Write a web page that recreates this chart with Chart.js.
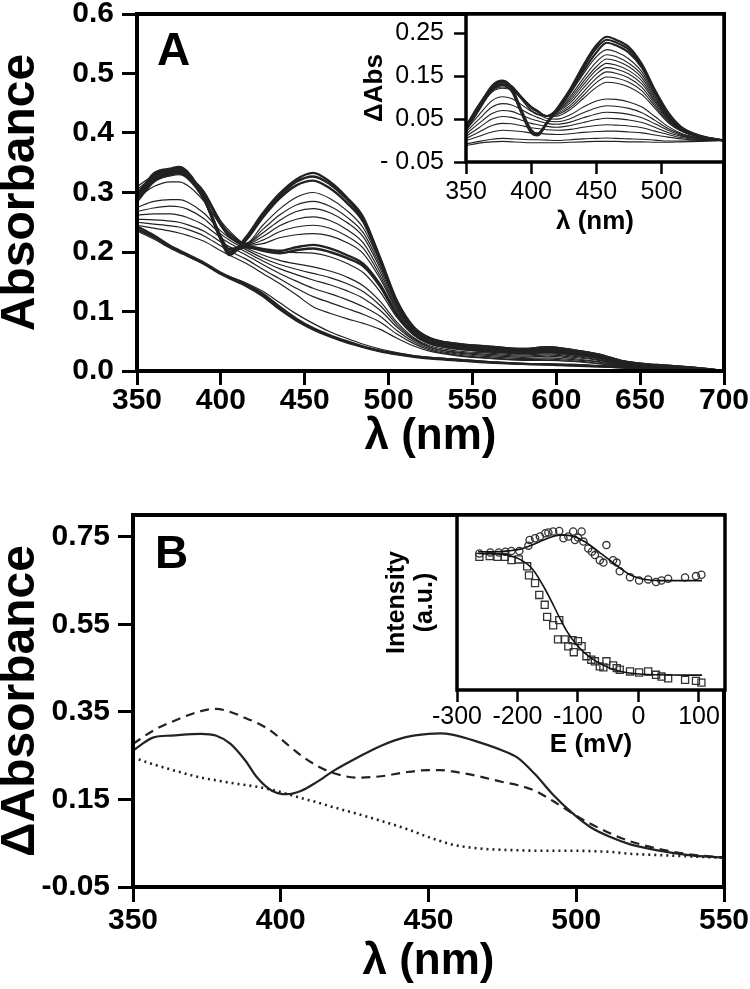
<!DOCTYPE html>
<html>
<head>
<meta charset="utf-8">
<script src="https://cdn.jsdelivr.net/npm/chart.js@4"></script>
<style>
body { margin: 0; background: #fff; }
#wrap { position: relative; width: 750px; height: 989px; overflow: hidden; }
canvas { position: absolute; }
.tag { position: absolute; font: bold 46px 'Liberation Sans', Arial, sans-serif; line-height: 1; color: #000; }
</style>
</head>
<body>
<div id="wrap">
  <canvas id="mainA" width="750" height="459" style="left:0px;top:0px"></canvas>
  <canvas id="insetA" width="400" height="240" style="left:350px;top:0px"></canvas>
  <canvas id="mainB" width="750" height="509" style="left:0px;top:480px"></canvas>
  <canvas id="insetB" width="390" height="270" style="left:360px;top:490px"></canvas>
  <div class="tag" style="left:157px;top:26px">A</div>
  <div class="tag" style="left:155px;top:529px">B</div>
</div>
<script>
const FONT = "'Liberation Sans', Arial, sans-serif";
const INK = '#222';

// ---- panel A: spectra recorded during the titration ----
const lamA = [350,360,370,375,380,390,400,405,415,425,435,445,455,465,475,485,495,505,515,525,540,560,580,595,610,625,640,660,680,700];
const a1  = [0.29,0.332,0.34,0.343,0.335,0.29,0.22,0.195,0.225,0.265,0.298,0.322,0.333,0.318,0.292,0.258,0.188,0.115,0.072,0.054,0.046,0.041,0.037,0.04,0.035,0.028,0.016,0.01,0.006,0.0];
const a2  = [0.295,0.33,0.338,0.34,0.333,0.292,0.225,0.2,0.222,0.262,0.294,0.318,0.327,0.314,0.289,0.255,0.19,0.118,0.074,0.055,0.046,0.041,0.037,0.04,0.035,0.028,0.016,0.01,0.006,0.0];
const a3  = [0.285,0.328,0.335,0.338,0.33,0.29,0.222,0.198,0.22,0.258,0.29,0.312,0.32,0.307,0.283,0.25,0.185,0.114,0.072,0.054,0.045,0.04,0.036,0.039,0.034,0.027,0.016,0.009,0.006,0.0];
const a4  = [0.30,0.33,0.336,0.335,0.33,0.30,0.245,0.225,0.215,0.245,0.272,0.292,0.30,0.29,0.27,0.24,0.182,0.115,0.073,0.054,0.045,0.04,0.036,0.038,0.034,0.027,0.015,0.009,0.005,0.0];
const a5  = [0.305,0.325,0.332,0.333,0.328,0.302,0.25,0.232,0.214,0.238,0.262,0.279,0.285,0.277,0.259,0.232,0.177,0.113,0.072,0.053,0.044,0.039,0.035,0.037,0.033,0.026,0.015,0.009,0.005,0.0];
const a6  = [0.31,0.328,0.333,0.332,0.326,0.30,0.252,0.236,0.214,0.232,0.253,0.268,0.273,0.266,0.25,0.225,0.172,0.11,0.07,0.052,0.043,0.038,0.035,0.037,0.033,0.026,0.015,0.009,0.005,0.0];
const a7  = [0.30,0.325,0.334,0.335,0.328,0.298,0.248,0.23,0.213,0.226,0.244,0.255,0.259,0.253,0.238,0.215,0.166,0.107,0.069,0.051,0.042,0.037,0.034,0.036,0.032,0.025,0.015,0.009,0.005,0.0];
const a8  = [0.29,0.322,0.33,0.332,0.326,0.296,0.245,0.228,0.212,0.22,0.234,0.242,0.245,0.24,0.227,0.206,0.16,0.104,0.068,0.05,0.041,0.036,0.033,0.035,0.031,0.024,0.014,0.008,0.005,0.0];
const a9  = [0.298,0.32,0.328,0.33,0.324,0.295,0.243,0.226,0.211,0.214,0.224,0.229,0.231,0.227,0.216,0.197,0.155,0.101,0.066,0.049,0.04,0.035,0.032,0.034,0.03,0.024,0.014,0.008,0.005,0.0];
const a10 = [0.29,0.322,0.332,0.335,0.328,0.29,0.225,0.205,0.21,0.205,0.202,0.208,0.212,0.206,0.195,0.18,0.145,0.096,0.063,0.047,0.039,0.034,0.031,0.033,0.029,0.023,0.013,0.008,0.005,0.0];
const a11 = [0.285,0.318,0.33,0.333,0.325,0.288,0.222,0.2,0.208,0.202,0.198,0.203,0.206,0.2,0.19,0.176,0.142,0.094,0.062,0.046,0.038,0.033,0.03,0.032,0.028,0.022,0.013,0.008,0.004,0.0];
const b1  = [0.29,0.31,0.318,0.318,0.312,0.285,0.245,0.232,0.212,0.205,0.2,0.199,0.198,0.192,0.181,0.165,0.133,0.09,0.06,0.045,0.037,0.032,0.029,0.031,0.027,0.021,0.012,0.007,0.004,0.0];
const b2  = [0.275,0.285,0.288,0.288,0.284,0.265,0.235,0.224,0.207,0.195,0.186,0.18,0.175,0.168,0.158,0.143,0.117,0.082,0.056,0.042,0.034,0.03,0.027,0.029,0.025,0.019,0.011,0.007,0.004,0.0];
const b3  = [0.268,0.274,0.277,0.276,0.272,0.256,0.23,0.22,0.204,0.19,0.179,0.171,0.164,0.157,0.147,0.133,0.11,0.078,0.054,0.04,0.032,0.028,0.025,0.027,0.023,0.018,0.01,0.006,0.004,0.0];
const b4  = [0.262,0.264,0.264,0.262,0.258,0.245,0.224,0.215,0.2,0.185,0.172,0.162,0.153,0.145,0.135,0.122,0.102,0.074,0.052,0.039,0.031,0.026,0.023,0.025,0.021,0.016,0.01,0.006,0.003,0.0];
const b5  = [0.255,0.254,0.252,0.25,0.246,0.235,0.217,0.209,0.195,0.179,0.164,0.151,0.139,0.13,0.12,0.108,0.092,0.068,0.049,0.037,0.029,0.024,0.021,0.022,0.019,0.015,0.009,0.005,0.003,0.0];
const b6  = [0.25,0.247,0.244,0.242,0.238,0.227,0.21,0.202,0.188,0.171,0.155,0.139,0.125,0.115,0.105,0.095,0.082,0.062,0.046,0.035,0.027,0.022,0.019,0.02,0.017,0.013,0.008,0.005,0.003,0.0];
const b7  = [0.245,0.24,0.235,0.232,0.228,0.218,0.202,0.195,0.181,0.164,0.147,0.128,0.108,0.097,0.088,0.08,0.07,0.055,0.042,0.033,0.026,0.021,0.018,0.018,0.016,0.012,0.008,0.005,0.003,0.0];
const c1  = [0.243,0.228,0.21,0.203,0.196,0.182,0.165,0.158,0.146,0.13,0.108,0.088,0.072,0.06,0.05,0.041,0.034,0.029,0.025,0.022,0.019,0.015,0.012,0.011,0.01,0.008,0.006,0.004,0.003,0.0];
const c2  = [0.238,0.225,0.208,0.2,0.194,0.18,0.163,0.156,0.143,0.126,0.104,0.085,0.07,0.058,0.048,0.04,0.033,0.028,0.024,0.021,0.018,0.014,0.012,0.011,0.009,0.008,0.006,0.004,0.002,0.0];
const c3  = [0.235,0.222,0.206,0.2,0.193,0.18,0.165,0.159,0.148,0.134,0.115,0.096,0.08,0.066,0.055,0.045,0.037,0.031,0.026,0.023,0.02,0.016,0.013,0.012,0.011,0.009,0.007,0.005,0.003,0.0];
const xTicksA = [350,400,450,500,550,600,650,700];
const yTicksA = [0,0.1,0.2,0.3,0.4,0.5,0.6];
const yLabelsA = ['0.0','0.1','0.2','0.3','0.4','0.5','0.6'];

// ---- inset A: difference spectra ----
const lamI = [350,360,370,378,385,392,400,405,412,420,430,440,450,458,465,475,485,495,505,515,530,548];
const i1  = [0.028,0.078,0.125,0.138,0.12,0.068,0.018,0.012,0.04,0.075,0.12,0.175,0.222,0.242,0.235,0.218,0.178,0.118,0.066,0.032,0.011,0.0];
const i2  = [0.032,0.08,0.128,0.14,0.124,0.075,0.025,0.016,0.042,0.074,0.118,0.17,0.215,0.235,0.229,0.212,0.174,0.115,0.064,0.031,0.01,0.0];
const i3  = [0.025,0.072,0.118,0.13,0.115,0.07,0.022,0.015,0.04,0.07,0.112,0.162,0.205,0.228,0.222,0.205,0.17,0.112,0.062,0.03,0.01,0.0];
const i4  = [0.035,0.085,0.125,0.135,0.128,0.1,0.07,0.06,0.058,0.075,0.11,0.155,0.195,0.212,0.207,0.19,0.16,0.106,0.058,0.029,0.009,0.0];
const i5  = [0.03,0.08,0.12,0.13,0.124,0.098,0.07,0.062,0.058,0.072,0.103,0.145,0.183,0.2,0.196,0.18,0.153,0.102,0.056,0.028,0.009,0.0];
const i6  = [0.033,0.082,0.122,0.132,0.126,0.102,0.075,0.066,0.058,0.07,0.098,0.137,0.172,0.19,0.186,0.172,0.146,0.098,0.054,0.027,0.009,0.0];
const i7  = [0.036,0.085,0.124,0.134,0.128,0.105,0.078,0.068,0.058,0.068,0.093,0.13,0.164,0.18,0.176,0.163,0.139,0.094,0.052,0.026,0.009,0.0];
const i8  = [0.03,0.078,0.118,0.128,0.122,0.1,0.076,0.067,0.057,0.066,0.088,0.122,0.155,0.17,0.167,0.155,0.132,0.09,0.05,0.025,0.008,0.0];
const i9  = [0.034,0.08,0.12,0.13,0.125,0.104,0.08,0.07,0.057,0.063,0.082,0.113,0.145,0.16,0.157,0.146,0.124,0.085,0.048,0.024,0.008,0.0];
const i10 = [0.028,0.075,0.115,0.125,0.12,0.1,0.078,0.069,0.056,0.06,0.077,0.105,0.135,0.148,0.146,0.136,0.116,0.08,0.045,0.023,0.008,0.0];
const i11 = [0.03,0.075,0.113,0.122,0.118,0.1,0.079,0.07,0.056,0.057,0.072,0.098,0.124,0.136,0.134,0.125,0.107,0.075,0.042,0.022,0.007,0.0];
const i12 = [0.025,0.06,0.093,0.102,0.098,0.085,0.068,0.062,0.052,0.05,0.06,0.078,0.092,0.097,0.096,0.09,0.078,0.056,0.033,0.017,0.006,0.0];
const i13 = [0.02,0.05,0.078,0.086,0.083,0.073,0.06,0.054,0.046,0.044,0.051,0.065,0.076,0.081,0.08,0.075,0.065,0.047,0.028,0.015,0.005,0.0];
const i14 = [0.015,0.04,0.063,0.07,0.068,0.06,0.05,0.046,0.04,0.038,0.043,0.053,0.062,0.066,0.065,0.061,0.053,0.039,0.024,0.012,0.004,0.0];
const i15 = [0.01,0.03,0.05,0.056,0.054,0.048,0.04,0.037,0.033,0.031,0.035,0.042,0.049,0.052,0.051,0.048,0.042,0.031,0.019,0.01,0.003,0.0];
const i16 = [0.005,0.02,0.035,0.04,0.039,0.035,0.03,0.028,0.025,0.024,0.026,0.031,0.035,0.037,0.036,0.034,0.03,0.022,0.014,0.007,0.002,0.0];
const i17 = [0.0,0.01,0.02,0.024,0.023,0.021,0.018,0.017,0.015,0.014,0.016,0.019,0.021,0.022,0.022,0.02,0.018,0.013,0.008,0.004,0.001,0.0];
const i18 = [-0.008,-0.002,0.003,0.005,0.004,0.003,0.002,0.002,0.001,0.0,0.002,0.004,0.005,0.006,0.005,0.004,0.003,0.001,-0.001,-0.001,0.0,0.0];
const i19 = [-0.012,-0.006,-0.003,-0.002,-0.003,-0.004,-0.005,-0.005,-0.005,-0.005,-0.004,-0.003,-0.002,-0.002,-0.002,-0.003,-0.003,-0.004,-0.004,-0.003,-0.002,0.0];
const xTicksI = [350,400,450,500];
const yTicksI = [-0.05,0.05,0.15,0.25];
const yLabelsI = ['- 0.05','0.05','0.15','0.25'];

// ---- panel B: difference spectra of the species ----
const lamB = [350,357,363,373,378,383,388,392,397,402,407,412,418,426,434,442,450,454,458,467,475,480,486,492,499,505,512,518,528,538,550];
const solidB  = [0.262,0.292,0.296,0.30,0.296,0.277,0.239,0.2,0.17,0.162,0.17,0.189,0.216,0.246,0.273,0.292,0.30,0.301,0.298,0.281,0.262,0.246,0.208,0.162,0.117,0.086,0.063,0.048,0.033,0.023,0.017];
const dashedB = [0.277,0.308,0.327,0.352,0.357,0.35,0.336,0.325,0.305,0.277,0.25,0.228,0.21,0.2,0.203,0.212,0.217,0.217,0.214,0.203,0.19,0.183,0.17,0.147,0.117,0.094,0.071,0.055,0.037,0.025,0.017];
const dottedB = [0.246,0.23,0.218,0.2,0.194,0.188,0.183,0.179,0.172,0.163,0.153,0.144,0.132,0.117,0.101,0.084,0.064,0.055,0.047,0.038,0.035,0.034,0.033,0.033,0.033,0.032,0.03,0.026,0.023,0.02,0.017];
const xTicksB = [350,400,450,500,550];
const yTicksB = [-0.05,0.15,0.35,0.55,0.75];
const yLabelsB = ['-0.05','0.15','0.35','0.55','0.75'];

// ---- inset B: redox titration ----
const circE = [-263,-245,-231,-220,-210,-197,-182,-180,-171,-163,-154,-149,-141,-131,-124,-116,-108,-105,-100,-94,-91,-83,-77,-72,-64,-58,-53,-42,-36,-31,-14,1,16,29,38,49,77,95,104];
const circI = [0.78,0.786,0.786,0.79,0.794,0.794,0.825,0.857,0.867,0.877,0.896,0.9,0.906,0.909,0.867,0.877,0.906,0.857,0.871,0.906,0.848,0.809,0.79,0.771,0.742,0.728,0.828,0.742,0.728,0.678,0.645,0.626,0.632,0.617,0.626,0.636,0.643,0.651,0.659];
const sqE = [-263,-246,-233,-221,-210,-198,-184,-181,-171,-164,-155,-151,-141,-131,-133,-122,-116,-109,-107,-100,-94,-86,-78,-72,-64,-58,-53,-42,-36,-31,-14,1,16,29,38,49,77,95,104];
const sqI = [0.761,0.765,0.761,0.761,0.742,0.746,0.707,0.655,0.611,0.543,0.487,0.418,0.37,0.399,0.289,0.289,0.25,0.285,0.216,0.279,0.25,0.193,0.173,0.164,0.135,0.129,0.164,0.141,0.125,0.116,0.106,0.1,0.106,0.087,0.077,0.067,0.058,0.052,0.042];
const fitE = [-265,-240,-215,-195,-175,-155,-140,-130,-120,-105,-90,-75,-60,-45,-30,-15,0,15,30,50,75,105];
const fitCirc = [0.79,0.79,0.795,0.805,0.83,0.86,0.878,0.885,0.885,0.876,0.85,0.815,0.775,0.735,0.695,0.66,0.64,0.63,0.626,0.625,0.625,0.625];
const fitSq = [0.78,0.778,0.77,0.745,0.69,0.58,0.48,0.41,0.345,0.27,0.215,0.175,0.145,0.122,0.107,0.097,0.091,0.088,0.087,0.086,0.085,0.085];
const xTicksE = [-300,-200,-100,0,100];

// box round the plot area
const frame = {
  id: 'frame',
  beforeDatasetsDraw(chart, args, opts) {
    if (!opts.fill) return;
    const a = chart.chartArea;
    chart.ctx.save();
    chart.ctx.fillStyle = '#fff';
    chart.ctx.fillRect(a.left, a.top, a.right - a.left, a.bottom - a.top);
    chart.ctx.restore();
  },
  afterDatasetsDraw(chart, args, opts) {
    const {ctx, chartArea: a} = chart;
    ctx.save();
    ctx.lineWidth = opts.width;
    ctx.strokeStyle = '#000';
    ctx.strokeRect(a.left, a.top, a.right - a.left, a.bottom - a.top);
    ctx.restore();
  }
};

function series(xs, ys, w, dash) {
  return {
    data: xs.map((x, i) => ({x: x, y: ys[i]})),
    borderColor: INK, borderWidth: w, borderDash: dash || [],
    pointRadius: 0, fill: false, cubicInterpolationMode: 'monotone'
  };
}

function xAxis(o) {
  return {
    type: 'linear', min: o.min, max: o.max,
    afterBuildTicks: s => { s.ticks = o.ticks.map(v => ({value: v})); },
    afterFit: s => { s.height = o.height; s.paddingLeft = 0; s.paddingRight = 0; },
    grid: {drawOnChartArea: false, tickLength: o.tick, tickWidth: o.tickW, color: '#000'},
    border: {display: false},
    ticks: {autoSkip: false, maxRotation: 0, color: '#000', padding: o.pad,
      font: {family: FONT, size: o.size, weight: o.weight, lineHeight: o.lh || 1.2}},
    title: {display: true, text: o.title, color: '#000', padding: {top: 0, bottom: 0},
      font: {family: FONT, size: o.tsize, weight: 'bold', lineHeight: 1}}
  };
}

function yAxis(o) {
  return {
    type: 'linear', min: o.min, max: o.max,
    afterBuildTicks: s => { s.ticks = o.ticks.map(v => ({value: v})); },
    afterFit: s => { s.width = o.width; s.paddingTop = 0; s.paddingBottom = 0; },
    grid: {display: o.tick > 0, drawOnChartArea: false, tickLength: o.tick, tickWidth: o.tickW, color: '#000'},
    border: {display: false},
    ticks: {display: o.labels.length > 0, autoSkip: false, color: '#000', padding: o.pad,
      callback: (v, i) => o.labels[i],
      font: {family: FONT, size: o.size, weight: o.weight}},
    title: {display: true, text: o.title, color: '#000', padding: {top: o.tpad, bottom: 0},
      font: {family: FONT, size: o.tsize, weight: 'bold', lineHeight: o.tlh}}
  };
}

Chart.defaults.animation = false;
Chart.defaults.responsive = false;

const spectraA = [a1,a2,a3,a4,a5,a6,a7,a8,a9,a10,a11,b1,b2,b3,b4,b5,b6,b7,c1,c2,c3];
const thickA = [a1,a2,a3,a10,a11,c1,c2];
new Chart(document.getElementById('mainA'), {
  type: 'line',
  data: {datasets: spectraA.map(s => series(lamA, s, thickA.includes(s) ? 2.4 : 1.2))},
  options: {
    layout: {padding: {top: 14, right: 26, bottom: 0, left: 0}},
    plugins: {legend: {display: false}, tooltip: {enabled: false}, frame: {width: 4}},
    scales: {
      x: xAxis({min: 350, max: 700, ticks: xTicksA, height: 88, tick: 14, tickW: 3, pad: 1, lh: 1,
        size: 30, weight: 'bold', title: 'λ (nm)', tsize: 44}),
      y: yAxis({min: 0, max: 0.6, ticks: yTicksA, labels: yLabelsA, width: 137, tick: 15, tickW: 3, pad: 8,
        size: 30, weight: 'bold', title: 'Absorbance', tsize: 48, tlh: 0.88, tpad: 0})
    }
  },
  plugins: [frame]
});

const spectraI = [i1,i2,i3,i4,i5,i6,i7,i8,i9,i10,i11,i12,i13,i14,i15,i16,i17,i18,i19];
const thickI = [i1,i2,i3];
new Chart(document.getElementById('insetA'), {
  type: 'line',
  data: {datasets: spectraI.map(s => series(lamI, s, thickI.includes(s) ? 2.2 : 1.1))},
  options: {
    layout: {padding: {top: 14, right: 26, bottom: 5, left: 0}},
    plugins: {legend: {display: false}, tooltip: {enabled: false}, frame: {width: 3.5, fill: true}},
    scales: {
      x: xAxis({min: 350, max: 548, ticks: xTicksI, height: 73, tick: 12, tickW: 2.5, pad: 3,
        size: 25, weight: 'normal', title: 'λ (nm)', tsize: 26}),
      y: yAxis({min: -0.05, max: 0.295, ticks: yTicksI, labels: yLabelsI, width: 116, tick: 12, tickW: 2.5, pad: 10,
        size: 25, weight: 'normal', title: 'ΔAbs', tsize: 26, tlh: 1, tpad: 12})
    }
  },
  plugins: [frame]
});

new Chart(document.getElementById('mainB'), {
  type: 'line',
  data: {datasets: [
    series(lamB, solidB, 2.2),
    series(lamB, dashedB, 2.2, [9, 6]),
    series(lamB, dottedB, 2.6, [2, 4])
  ]},
  options: {
    layout: {padding: {top: 35, right: 26, bottom: 5, left: 0}},
    plugins: {legend: {display: false}, tooltip: {enabled: false}, frame: {width: 4}},
    scales: {
      x: xAxis({min: 350, max: 550, ticks: xTicksB, height: 97, tick: 15, tickW: 3, pad: 1,
        size: 30, weight: 'bold', title: 'λ (nm)', tsize: 44}),
      y: yAxis({min: -0.05, max: 0.8, ticks: yTicksB, labels: yLabelsB, width: 133, tick: 15, tickW: 3, pad: 8,
        size: 30, weight: 'bold', title: 'ΔAbsorbance', tsize: 48, tlh: 0.88, tpad: 0})
    }
  },
  plugins: [frame]
});

function points(xs, ys, style, r) {
  return {
    data: xs.map((x, i) => ({x: x, y: ys[i]})), showLine: false,
    pointStyle: style, pointRadius: r, pointBorderWidth: 1.3,
    pointBorderColor: '#333', pointBackgroundColor: 'rgba(0,0,0,0)'
  };
}
function fitLine(xs, ys) {
  return {
    data: xs.map((x, i) => ({x: x, y: ys[i]})), showLine: true,
    borderColor: '#111', borderWidth: 1.6, pointRadius: 0, cubicInterpolationMode: 'monotone'
  };
}

new Chart(document.getElementById('insetB'), {
  type: 'scatter',
  data: {datasets: [
    fitLine(fitE, fitCirc), fitLine(fitE, fitSq),
    points(circE, circI, 'circle', 3.6), points(sqE, sqI, 'rect', 5)
  ]},
  options: {
    layout: {padding: {top: 25, right: 25, bottom: 2, left: 0}},
    plugins: {legend: {display: false}, tooltip: {enabled: false}, frame: {width: 3.5, fill: true}},
    scales: {
      x: xAxis({min: -300, max: 143, ticks: xTicksE, height: 68, tick: 12, tickW: 2.5, pad: 0,
        size: 25, weight: 'normal', title: 'E (mV)', tsize: 26}),
      y: yAxis({min: 0, max: 1, ticks: [], labels: [], width: 97, tick: 0, tickW: 0, pad: 0,
        size: 25, weight: 'normal', title: ['Intensity', '(a.u.)'], tsize: 25, tlh: 1.12, tpad: 23})
    }
  },
  plugins: [frame]
});
</script>
</body>
</html>
